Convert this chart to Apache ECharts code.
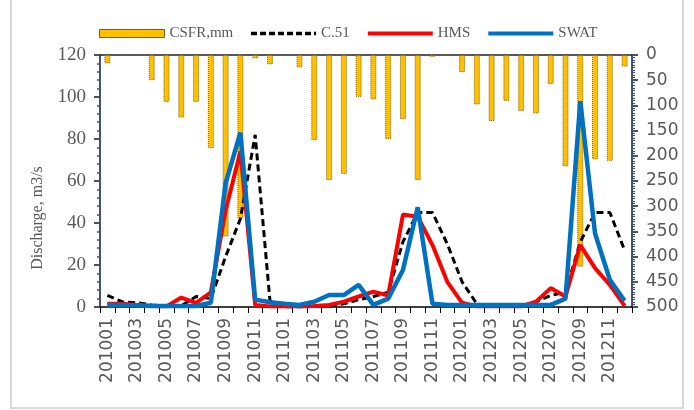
<!DOCTYPE html>
<html>
<head>
<meta charset="utf-8">
<script src="https://cdn.jsdelivr.net/npm/echarts@6/dist/echarts.min.js"></script>
<style>
  html, body { margin: 0; padding: 0; background: #fff; }
  #chart { width: 694px; height: 410px; }
</style>
</head>
<body>
<div id="chart"></div>
<script>
// Monthly periods, Jan 2010 – Dec 2012
const months = [
  '201001','201002','201003','201004','201005','201006','201007','201008','201009','201010','201011','201012',
  '201101','201102','201103','201104','201105','201106','201107','201108','201109','201110','201111','201112',
  '201201','201202','201203','201204','201205','201206','201207','201208','201209','201210','201211','201212'
];

// Monthly rainfall (mm), plotted downward on the right axis
const rainfall = [
  16.5, 2, 2, 50, 93, 124, 93, 185, 360, 324, 6.5, 18.5,
  2, 24.5, 169, 248, 236, 83, 88, 167, 127, 248, 3.5, 1,
  34, 98, 131, 91, 111, 116, 57.5, 221, 420, 207, 210, 23
];

// Discharge (m3/s) at station C.51
const c51 = [
  5.5, 2.5, 2, 1, 0.5, 0.5, 5, 4, 24, 42, 82, 3,
  0, 0, 0.3, 0.5, 1.5, 3.5, 5, 7, 31, 45, 45, 30,
  12, 1.5, 0.5, 0.5, 0.5, 2.5, 5.5, 7, 31, 45, 45, 27
];

// Simulated discharge (m3/s), HEC-HMS
const hms = [
  1.5, 1.5, 1, 0.5, 0.3, 4.5, 2, 7, 46, 74, 1, 0.3,
  0.3, 0.3, 0.5, 1, 2.5, 5, 7.3, 5.5, 44, 43, 29.5, 12,
  2, 0.3, 0.3, 0.3, 0.3, 2.5, 9, 5, 29.5, 18.5, 10.5, 0.5
];

// Simulated discharge (m3/s), SWAT
const swat = [
  1, 1, 0.8, 0.5, 0.5, 0.5, 0.5, 2, 59, 83, 3.5, 2.3,
  1.5, 1, 2.5, 5.7, 5.7, 10.5, 1, 4, 17.6, 47.5, 1.5, 1,
  1, 1, 1, 1, 1, 1, 1, 4, 98, 35, 13, 3
];

const dischargeAxis = { min: 0, max: 120, interval: 20 };
const rainfallAxis = { min: 0, max: 500, interval: 50 };

const axisBlue = '#44546A';
const labelGray = '#595959';

const chart = echarts.init(document.getElementById('chart'), null, { renderer: 'canvas' });

chart.setOption({
  animation: false,
  backgroundColor: '#fff',
  legend: {
    left: 94,
    top: 21,
    itemWidth: 65,
    itemHeight: 8,
    itemGap: 16,
    textStyle: { fontFamily: 'Liberation Serif', fontSize: 15, color: labelGray },
    data: [
      { name: 'CSFR,mm', icon: 'rect', itemStyle: { borderColor: '#7F6000', borderWidth: 1, borderType: 'solid' } },
      { name: 'C.51', itemStyle: { opacity: 0 }, lineStyle: { width: 3.5, type: [6, 3] } },
      { name: 'HMS', itemStyle: { opacity: 0 }, lineStyle: { width: 4 } },
      { name: 'SWAT', itemStyle: { opacity: 0 }, lineStyle: { width: 4 } }
    ]
  },
  grid: { left: 100, right: 62, top: 55, bottom: 103 },
  xAxis: [
    {
      type: 'category',
      data: months,
      boundaryGap: true,
      axisLine: { onZero: false, lineStyle: { color: '#000', width: 1.5 } },
      axisTick: { show: true, interval: 0, length: 6, lineStyle: { color: '#000', width: 1 } },
      axisLabel: {
        interval: 1, rotate: 90, margin: 11,
        fontFamily: 'DejaVu Sans', fontSize: 17, color: labelGray
      },
      splitLine: { show: false }
    },
    {
      type: 'category',
      data: months,
      position: 'top',
      axisLine: { onZero: false, lineStyle: { color: '#222', width: 1.5 } },
      axisTick: { show: false },
      axisLabel: { show: false },
      splitLine: { show: false }
    }
  ],
  yAxis: [
    {
      type: 'value',
      min: dischargeAxis.min, max: dischargeAxis.max, interval: dischargeAxis.interval,
      axisLine: { show: true, lineStyle: { color: axisBlue, width: 2 } },
      axisTick: { show: true, length: 6, lineStyle: { color: axisBlue, width: 2 } },
      minorTick: { show: true, splitNumber: 5, length: 3, lineStyle: { color: axisBlue, width: 1.5 } },
      splitLine: { show: false },
      axisLabel: { fontFamily: 'Liberation Serif', fontSize: 19, color: labelGray, margin: 14 }
    },
    {
      type: 'value',
      position: 'right',
      inverse: true,
      min: rainfallAxis.min, max: rainfallAxis.max, interval: rainfallAxis.interval,
      axisLine: { show: true, lineStyle: { color: axisBlue, width: 2 } },
      axisTick: { show: true, length: 6, lineStyle: { color: axisBlue, width: 2 } },
      minorTick: { show: true, splitNumber: 10, length: 3, lineStyle: { color: axisBlue, width: 1.2 } },
      splitLine: { show: false },
      axisLabel: { fontFamily: 'DejaVu Sans', fontSize: 17, color: labelGray, margin: 14 }
    }
  ],
  series: [
    {
      name: 'CSFR,mm',
      type: 'bar',
      xAxisIndex: 0,
      yAxisIndex: 1,
      data: rainfall,
      barWidth: 6,
      itemStyle: { color: '#FFC000', borderColor: '#7F6000', borderWidth: 1, borderType: 'dotted' },
      z: 1
    },
    {
      name: 'C.51',
      type: 'line',
      yAxisIndex: 0,
      data: c51,
      symbol: 'none',
      lineStyle: { color: '#000', width: 3, type: [7, 4] },
      itemStyle: { color: '#000' },
      z: 2
    },
    {
      name: 'HMS',
      type: 'line',
      yAxisIndex: 0,
      data: hms,
      symbol: 'none',
      lineStyle: { color: '#FF0000', width: 4 },
      itemStyle: { color: '#FF0000' },
      z: 3
    },
    {
      name: 'SWAT',
      type: 'line',
      yAxisIndex: 0,
      data: swat,
      symbol: 'none',
      lineStyle: { color: '#0070C0', width: 4.5 },
      itemStyle: { color: '#0070C0' },
      z: 4
    }
  ],
  graphic: [
    {
      type: 'rect',
      shape: { x: 11, y: -4, width: 672, height: 412 },
      style: { fill: 'none', stroke: '#D9D9D9', lineWidth: 2 },
      silent: true,
      z: 0
    },
    {
      type: 'text',
      x: 38,
      y: 218,
      rotation: Math.PI / 2,
      style: {
        text: 'Discharge, m3/s',
        fontFamily: 'Liberation Serif',
        fontSize: 16,
        fill: labelGray,
        align: 'center',
        verticalAlign: 'middle'
      }
    }
  ]
});
</script>
</body>
</html>
